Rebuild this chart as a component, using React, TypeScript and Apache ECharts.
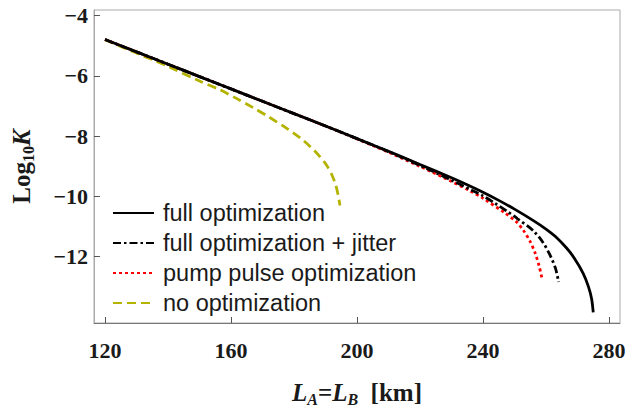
import React, { useEffect, useRef } from "react";
import * as echarts from "echarts";

const xTicks = [120, 160, 200, 240, 280];
const yTicks = [-12, -10, -8, -6, -4];

const fullX = [120, 130, 140, 150, 160, 170, 180, 190, 200, 210, 220, 230, 236, 240, 245, 250, 256, 260, 263, 266.6, 269, 271.8, 273.5, 274.5, 275];
const fullY = [-4.79, -5.2, -5.61, -6.02, -6.43, -6.84, -7.25, -7.66, -8.08, -8.5, -8.94, -9.38, -9.66, -9.86, -10.13, -10.42, -10.8, -11.08, -11.33, -11.72, -12.05, -12.55, -13.0, -13.4, -13.85];

const jitterX = [120, 130, 140, 150, 160, 170, 180, 190, 200, 210, 220, 230, 236, 240, 244, 247.5, 251, 256, 259, 261.3, 263, 264];
const jitterY = [-4.79, -5.2, -5.61, -6.02, -6.43, -6.84, -7.25, -7.66, -8.08, -8.51, -8.97, -9.46, -9.77, -9.98, -10.24, -10.48, -10.74, -11.14, -11.52, -11.95, -12.38, -12.84];

const pumpX = [120, 130, 140, 150, 160, 170, 180, 190, 200, 210, 220, 230, 236, 240, 247, 250.7, 252.8, 255, 256.5, 257.8, 258.8];
const pumpY = [-4.79, -5.2, -5.61, -6.02, -6.43, -6.84, -7.25, -7.66, -8.09, -8.53, -9.0, -9.5, -9.82, -10.06, -10.55, -10.85, -11.12, -11.5, -11.86, -12.3, -12.75];

const noOptX = [120, 130, 140, 150, 156.5, 162, 167, 172, 177.7, 182, 185, 188, 190.4, 192, 193.2, 194, 194.6];
const noOptY = [-4.8, -5.24, -5.68, -6.17, -6.46, -6.76, -7.05, -7.36, -7.74, -8.06, -8.33, -8.65, -8.97, -9.28, -9.6, -9.95, -10.3];

const seriesNames = [
  "full optimization",
  "full optimization + jitter",
  "pump pulse optimization",
  "no optimization",
];

const zip = (xs: number[], ys: number[]) => xs.map((x, i) => [x, ys[i]]);

const serifFont = '"Liberation Serif", "Times New Roman", serif';
const sansFont = '"Liberation Sans", Arial, sans-serif';

export default function App() {
  const ref = useRef<HTMLDivElement>(null);
  useEffect(() => {
    if (!ref.current) return;
    const chart = echarts.init(ref.current, undefined, { renderer: "svg" });
    const fmt = (v: number) => (v < 0 ? "\u2212" + Math.abs(v) : String(v));
    const nameRich = {
      i: { fontFamily: serifFont, fontWeight: "bold", fontStyle: "italic", fontSize: 25, color: "#1a1a1a", lineHeight: 30 },
      b: { fontFamily: serifFont, fontWeight: "bold", fontSize: 25, color: "#1a1a1a", lineHeight: 30 },
      sub: { fontFamily: serifFont, fontWeight: "bold", fontStyle: "italic", fontSize: 16, color: "#1a1a1a", lineHeight: 30, verticalAlign: "bottom", padding: [12, 0, 0, 0] },
      subn: { fontFamily: serifFont, fontWeight: "bold", fontSize: 16, color: "#1a1a1a", lineHeight: 30, verticalAlign: "bottom", padding: [12, 0, 0, 0] },
    };
    chart.setOption({
      animation: false,
      backgroundColor: "#ffffff",
      grid: {
        left: 94,
        right: 21,
        top: 10,
        bottom: 78,
        show: true,
        borderColor: "#aaaaaa",
        borderWidth: 1,
        backgroundColor: "transparent",
      },
      legend: {
        orient: "vertical",
        left: 112,
        top: 201,
        padding: 0,
        itemWidth: 41,
        itemHeight: 14,
        itemGap: 6,
        data: seriesNames,
        itemStyle: { opacity: 0 },
        textStyle: { fontFamily: sansFont, fontSize: 23.5, lineHeight: 24, color: "#1a1a1a", padding: [0, 0, 0, 4] },
      },
      xAxis: {
        type: "value",
        min: 116.5,
        max: 283.5,
        name: "{i|L}{sub|A}{b|=}{i|L}{sub|B}{b|  [km]}",
        nameLocation: "middle",
        nameGap: 54,
        nameTextStyle: { rich: nameRich },
        axisLine: { show: true, onZero: false, lineStyle: { color: "#777777", width: 1 } },
        axisTick: { show: true, inside: true, length: 6, customValues: xTicks, lineStyle: { color: "#555555" } },
        axisLabel: {
          customValues: xTicks,
          formatter: fmt,
          margin: 16,
          fontFamily: serifFont,
          fontWeight: "bold",
          fontSize: 22,
          color: "#1a1a1a",
        },
        splitLine: { show: false },
      },
      yAxis: {
        type: "value",
        min: -14.2,
        max: -3.81,
        name: "{b|Log}{subn|10}{i|K}",
        nameLocation: "middle",
        nameGap: 58,
        nameRotate: 90,
        nameTextStyle: { rich: nameRich },
        axisLine: { show: true, onZero: false, lineStyle: { color: "#aaaaaa", width: 1 } },
        axisTick: { show: true, inside: true, length: 6, customValues: yTicks, lineStyle: { color: "#555555" } },
        axisLabel: {
          customValues: yTicks,
          formatter: fmt,
          margin: 6,
          padding: [0, 0, 8, 0],
          fontFamily: serifFont,
          fontWeight: "bold",
          fontSize: 22,
          color: "#1a1a1a",
        },
        splitLine: { show: false },
      },
      series: [
        {
          name: seriesNames[0],
          type: "line",
          data: zip(fullX, fullY),
          symbol: "none",
          smooth: 0.3,
          z: 5,
          lineStyle: { color: "#000000", width: 2.8, type: "solid" },
          itemStyle: { color: "#000000" },
        },
        {
          name: seriesNames[1],
          type: "line",
          data: zip(jitterX, jitterY),
          symbol: "none",
          smooth: 0.3,
          z: 4,
          lineStyle: { color: "#000000", width: 2.8, type: [8, 3, 2.5, 3] },
          itemStyle: { color: "#000000" },
        },
        {
          name: seriesNames[2],
          type: "line",
          data: zip(pumpX, pumpY),
          symbol: "none",
          smooth: 0.3,
          z: 3,
          lineStyle: { color: "#ff0000", width: 2.8, type: [3, 3] },
          itemStyle: { color: "#ff0000" },
        },
        {
          name: seriesNames[3],
          type: "line",
          data: zip(noOptX, noOptY),
          symbol: "none",
          smooth: 0.3,
          z: 2,
          lineStyle: { color: "#b3b300", width: 2.8, type: [9, 5] },
          itemStyle: { color: "#b3b300" },
        },
      ],
    });
    return () => chart.dispose();
  }, []);
  return (
    <div
      ref={ref}
      style={{ position: "fixed", left: 0, top: 0, width: 641, height: 412, background: "#fff" }}
    />
  );
}
